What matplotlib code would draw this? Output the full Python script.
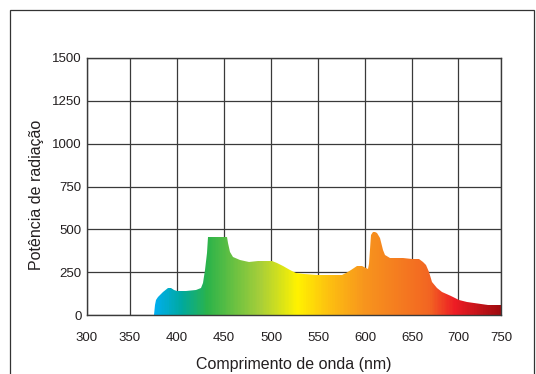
import numpy as np
import matplotlib
matplotlib.use("Agg")
import matplotlib.pyplot as plt
from matplotlib.colors import LinearSegmentedColormap
from matplotlib.patches import Polygon, Rectangle

plt.rcParams['font.family'] = ['Liberation Sans', 'DejaVu Sans']

# spectrum outline
wavelength = [376.0, 376.2, 377.4, 379.4, 385, 390.4, 394, 397, 400.5, 410, 420, 425, 427.5,
              429.5, 431.5, 433.3, 440, 450, 453, 454, 456, 459.6, 466.8, 477, 486, 495,
              501, 506, 513, 520, 527, 535, 549, 565, 575, 580, 585, 591, 597, 601,
              603, 604, 606, 608, 611, 613, 616, 619, 621.6, 627, 640, 650, 658, 662,
              665, 668, 672, 677, 683, 692, 701, 710, 719, 735, 750]
power = [0, 58, 85, 103, 136, 156, 159, 148, 140, 141, 148, 157, 187,
         260, 360, 457, 457, 457, 455, 418, 370, 340, 321, 311, 314, 317,
         314, 305, 285, 262, 247, 238, 232, 232, 234, 243, 262, 284, 285, 276,
         268, 300, 467, 484, 486, 480, 447, 380, 350, 335, 330, 328, 325, 312,
         292, 250, 195, 160, 136, 108, 88, 76, 68, 61, 58]

# colour stops of the gradient (nm)
stop_wl = [376.0, 405, 432, 488, 528, 561, 600, 669, 697, 750]
stop_colors = ['#00aeef', '#00a99d', '#2bb34a', '#a6ce39', '#fff200', '#fdc010',
               '#f7941d', '#f26522', '#ed1c24', '#9e0b0f']

x_ticks = [300, 350, 400, 450, 500, 550, 600, 650, 700, 750]
y_ticks = [0, 250, 500, 750, 1000, 1250, 1500]
# the drawn axis is not evenly spaced: first and last steps are narrower
x_tick_px = [87, 130, 177, 224, 271, 318, 365, 412, 458, 501]

fwd = lambda v: np.interp(v, x_ticks, x_tick_px)
inv = lambda p: np.interp(p, x_tick_px, x_ticks)

fig = plt.figure(figsize=(5.36, 3.74), dpi=100)
ax = fig.add_axes([87 / 536, 1 - 315 / 374, (501 - 87) / 536, (315 - 58) / 374])
ax.set_xscale('function', functions=(fwd, inv))

line_col = '#3a3a3a'
text_col = '#231f20'

lo, hi = stop_wl[0], stop_wl[-1]
pos = [(w - lo) / (hi - lo) for w in stop_wl]
cmap = LinearSegmentedColormap.from_list('spec', list(zip(pos, stop_colors)))

edges = np.linspace(lo, hi, 401)
mids = (edges[:-1] + edges[1:]) / 2
mesh = ax.pcolormesh(edges, [0, 1500], ((mids - lo) / (hi - lo))[None, :],
                     cmap=cmap, vmin=0, vmax=1, shading='flat', zorder=2,
                     linewidth=0, antialiased=False, rasterized=True)
outline = list(zip(wavelength, power)) + [(wavelength[-1], 0), (wavelength[0], 0)]
poly = Polygon(outline, closed=True, facecolor='none', edgecolor='none',
               transform=ax.transData)
ax.add_patch(poly)
mesh.set_clip_path(poly)

ax.set_xlim(300, 750)
ax.set_ylim(0, 1500)
ax.set_xticks(x_ticks)
ax.set_xticklabels([str(t) for t in x_ticks])
ax.minorticks_off()
ax.set_yticks(y_ticks)
ax.grid(True, color=line_col, linewidth=0.9, zorder=1)
ax.set_axisbelow(True)
for s in ax.spines.values():
    s.set_color(line_col)
    s.set_linewidth(1.0)
    s.set_zorder(3)
ax.tick_params(length=0, labelsize=9.5, colors=text_col)
ax.tick_params(axis='x', pad=12.3)
ax.tick_params(axis='y', pad=4)
ax.set_xlabel('Comprimento de onda (nm)', fontsize=11.5, color=text_col, labelpad=9)
ax.set_ylabel('Potência de radiação', fontsize=11.5, color=text_col)
ax.yaxis.set_label_coords(-0.104, 0.467)

# outer frame
frame = Rectangle((10 / 536, -0.1), (534 - 10) / 536, 1.1 - 10 / 374,
                  transform=fig.transFigure, fill=False, edgecolor='#333333',
                  linewidth=0.9, clip_on=False)
fig.patches.append(frame)

fig.savefig('out.png', dpi=100)
